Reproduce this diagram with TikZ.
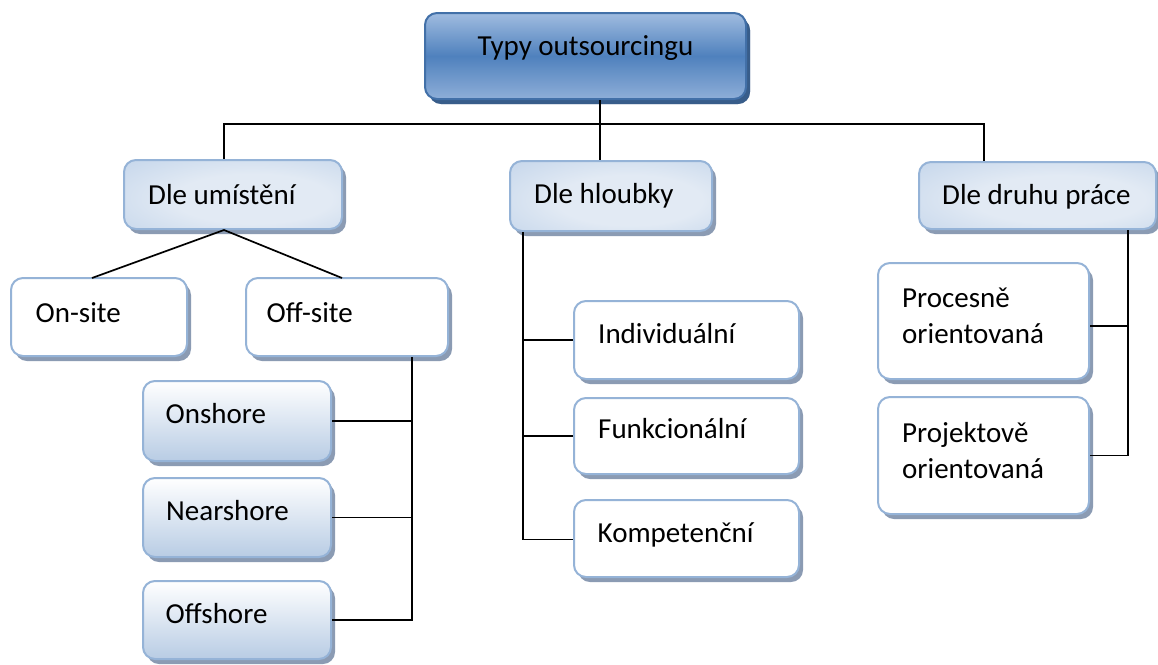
\documentclass[tikz,border=0pt]{standalone}
\usepackage{fontspec}
\setmainfont{Carlito}
\usetikzlibrary{shadows}
\definecolor{topLight}{HTML}{A0BCE0}
\definecolor{topMid}{HTML}{4F81BD}
\definecolor{topLow}{HTML}{8EAED8}
\definecolor{topBorder}{HTML}{4270A8}
\definecolor{topShadow}{HTML}{385D8A}
\definecolor{lvInner}{HTML}{E2EAF4}
\definecolor{lvMid}{HTML}{C2D4EA}
\definecolor{lvOuter}{HTML}{97B5DA}
\definecolor{lightBorder}{HTML}{95B3D7}
\definecolor{greyShadow}{HTML}{8B9BB3}
\definecolor{gradLow}{HTML}{B8CCE4}
\pgfdeclareradialshading{lvshade}{\pgfpoint{6bp}{-4bp}}{color(0bp)=(lvInner); color(18bp)=(lvInner); color(42bp)=(lvMid); color(62bp)=(lvOuter); color(75bp)=(lvOuter)}
\newcommand\mybox[6]{%
  \node[#2, minimum width={#5pt-#3pt}, minimum height={#6pt-#4pt}] (#1) at ({(#3+#5)/2},{(#4+#6)/2}) {};}
\begin{document}
\begin{tikzpicture}[x=1pt,y=-1pt,
  base/.style={rounded corners=12pt, line width=2pt, draw=lightBorder, inner sep=0pt,
    drop shadow={shadow xshift=4pt, shadow yshift=-5pt, fill=greyShadow, opacity=1}},
  topbox/.style={base, draw=topBorder, top color=topLight, bottom color=topLow, middle color=topMid,
    drop shadow={shadow xshift=4pt, shadow yshift=-5pt, fill=topShadow, opacity=1}},
  lvbox/.style={base, shading=lvshade},
  gradbox/.style={base, top color=white, bottom color=gradLow},
  whitebox/.style={base, fill=white},
  txt/.style={inner sep=0pt, font=\fontsize{29}{36}\selectfont, text=black},
  conn/.style={line width=1.7pt, draw=black}
]
\useasboundingbox (0,0) rectangle (1158,664);

% boxes
\mybox{top}{topbox}{425}{13}{746}{99}
\mybox{du}{lvbox}{124}{160}{342}{229}
\mybox{hb}{lvbox}{510}{161}{712}{231}
\mybox{dd}{lvbox}{919}{162}{1156}{229}
\mybox{on}{whitebox}{11}{278}{187}{356}
\mybox{off}{whitebox}{246}{278}{448}{356}
\mybox{ons}{gradbox}{143}{381}{331}{461}
\mybox{near}{gradbox}{143}{478}{331}{557}
\mybox{offs}{gradbox}{143}{581}{331}{659}
\mybox{ind}{whitebox}{574}{301}{799}{379}
\mybox{fun}{whitebox}{574}{398}{799}{474}
\mybox{kom}{whitebox}{574}{500}{799}{577}
\mybox{proc}{whitebox}{878}{263}{1089}{379}
\mybox{proj}{whitebox}{878}{397}{1089}{514}

% texts
\node[txt, anchor=base] (topt) at (585.5,55) {Typy outsourcingu};
\node[txt, anchor=base west] (dut) at (148,204) {Dle umístění};
\node[txt, anchor=base west] (hbt) at (534,203) {Dle hloubky};
\node[txt, anchor=base west] (ddt) at (942,204) {Dle druhu práce};
\node[txt, anchor=base west] (ont) at (35.5,322) {On-site};
\node[txt, anchor=base west] (offt) at (266.5,322) {Off-site};
\node[txt, anchor=base west] (onst) at (165.5,423) {Onshore};
\node[txt, anchor=base west] (neart) at (166,520) {Nearshore};
\node[txt, anchor=base west] (offst) at (165.5,623) {Offshore};
\node[txt, anchor=base west] (indt) at (598,343) {Individuální};
\node[txt, anchor=base west] (funt) at (598,438) {Funkcionální};
\node[txt, anchor=base west] (komt) at (597.5,542) {Kompetenční};
\node[txt, anchor=base west] (proct) at (902,307) {\vtop{\hbox{Procesně}\hbox{orientovaná}}};
\node[txt, anchor=base west] (projt) at (902,442) {\vtop{\hbox{Projektově}\hbox{orientovaná}}};

% junction coordinates
\coordinate (bl) at (224,124);
\coordinate (bm) at (600,124);
\coordinate (br) at (984,124);
\coordinate (onend) at (92,278);
\coordinate (offend) at (342,278);
\coordinate (offx) at (412,0);
\coordinate (hbx) at (523,0);
\coordinate (ddx) at (1128,0);

% connectors
\draw[conn] (bm |- top.south) -- (bm |- hb.north);
\draw[conn] (bl |- du.north) -- (bl) -- (br) -- (br |- dd.north);
\draw[conn] (onend) -- (bl |- du.south) -- (offend);
\draw[conn] (offx |- off.south) -- (offx |- offs.east) -- (offs.east);
\draw[conn] (ons.east) -- (offx |- ons.east);
\draw[conn] (near.east) -- (offx |- near.east);
\draw[conn] (hbx |- hb.south) -- ([yshift=-1]hbx |- kom.west) -- ([yshift=-1]kom.west);
\draw[conn] (ind.west) -- (hbx |- ind.west);
\draw[conn] (fun.west) -- (hbx |- fun.west);
\draw[conn] (ddx |- dd.south) -- (ddx |- proj.east) -- (proj.east);
\draw[conn] ([yshift=-5]proc.east) -- ([yshift=-5]ddx |- proc.east);
\end{tikzpicture}
\end{document}
